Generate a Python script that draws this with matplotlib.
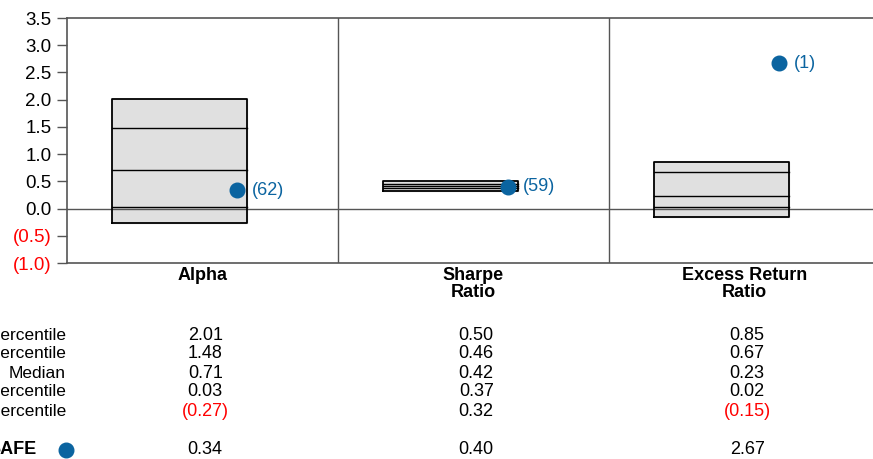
import matplotlib
matplotlib.use("Agg")
import matplotlib.pyplot as plt
from matplotlib.transforms import blended_transform_factory

plt.rcParams['font.family'] = ['Liberation Sans', 'DejaVu Sans']

categories = ["Alpha", "Sharpe\nRatio", "Excess Return\nRatio"]
p95 = [2.01, 0.50, 0.85]
p75 = [1.48, 0.46, 0.67]
median = [0.71, 0.42, 0.23]
p25 = [0.03, 0.37, 0.02]
p5 = [-0.27, 0.32, -0.15]
safe = [0.34, 0.40, 2.67]
safe_rank = [62, 59, 1]
row_labels = ["95th Percentile", "75th Percentile", "Median",
              "25th Percentile", "5th Percentile"]
yticks = [-1.0, -0.5, 0.0, 0.5, 1.0, 1.5, 2.0, 2.5, 3.0, 3.5]

blue = "#0b64a0"
grey = "#555555"
red = "#ff0000"


def fmt(v, nd=2):
    s = f"{abs(v):.{nd}f}"
    return f"({s})" if v < 0 else s


W, H = 873, 459
fig = plt.figure(figsize=(W / 100, H / 100), dpi=100)
ax = fig.add_axes([67 / W, (H - 263) / H, (880 - 67) / W, (263 - 18) / H])

box_off = 0.415
box_w = 0.50
dot_off = 0.627

for i in range(3):
    x0 = i + box_off - box_w / 2
    ax.fill_between([x0, x0 + box_w], p5[i], p95[i], color="#e0e0e0", zorder=2)
    ax.plot([x0, x0 + box_w, x0 + box_w, x0, x0],
            [p5[i], p5[i], p95[i], p95[i], p5[i]], color="black", lw=1.3, zorder=4)
    for v in (p75[i], median[i], p25[i]):
        ax.plot([x0, x0 + box_w], [v, v], color="black", lw=1.0, zorder=4)
    ax.plot(i + dot_off, safe[i], "o", color=blue, ms=10.5, zorder=5)
    ax.annotate(f"({safe_rank[i]})", (i + dot_off, safe[i]), xytext=(11, 0),
                textcoords="offset points", va="center", ha="left",
                color=blue, fontsize=13)

ax.axhline(0, color=grey, lw=1, zorder=3)
for xv in (1, 2):
    ax.axvline(xv, color=grey, lw=1, zorder=1)

ax.set_xlim(0, 3)
ax.set_ylim(-1.0, 3.5)
ax.set_xticks([])
ax.set_yticks(yticks)
ax.set_yticklabels([fmt(v, 1) for v in yticks], fontsize=13.5)
for lab, v in zip(ax.get_yticklabels(), yticks):
    lab.set_color(red if v < 0 else "black")
ax.tick_params(axis="y", length=7, width=1, color=grey, pad=4)
for side in ("left", "top", "bottom"):
    ax.spines[side].set_color(grey)
    ax.spines[side].set_linewidth(1.2)
ax.spines["right"].set_visible(False)

tr = blended_transform_factory(ax.transData, fig.transFigure)
row_y = [336, 354, 373, 392, 411]
for i, cat in enumerate(categories):
    ax.text(i + 0.5, 1 - 267 / H, cat, transform=tr, ha="center", va="top",
            fontsize=13, fontweight="bold", linespacing=1.0)
    vals = [p95[i], p75[i], median[i], p25[i], p5[i]]
    for v, yy in zip(vals, row_y):
        ax.text(i + 0.51, 1 - yy / H, fmt(v), transform=tr, ha="center",
                va="center", fontsize=13, color=red if v < 0 else "black")
    ax.text(i + 0.51, 1 - 450 / H, fmt(safe[i]), transform=tr, ha="center",
            va="center", fontsize=13, color=red if safe[i] < 0 else "black")

for lab, yy in zip(row_labels, row_y):
    fig.text(66 / W, 1 - yy / H, lab, ha="right", va="center", fontsize=12.5)
fig.text(37 / W, 1 - 450 / H, "SAFE", ha="right", va="center", fontsize=13,
         fontweight="bold")
fig.add_artist(plt.Line2D([66 / W], [1 - 450 / H], marker="o", color=blue,
                          ms=10.5, transform=fig.transFigure))

fig.savefig("out.png", dpi=100)
